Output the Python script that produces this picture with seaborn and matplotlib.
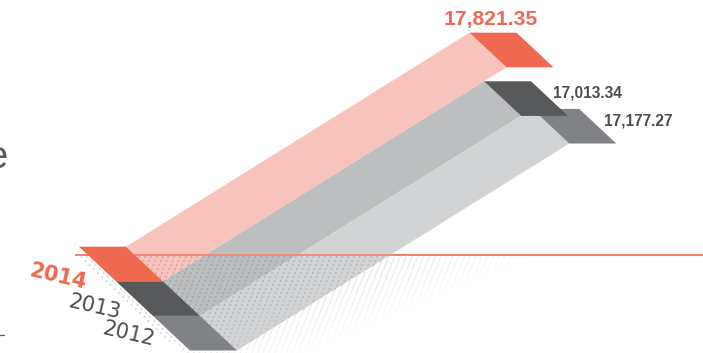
import numpy as np
import pandas as pd
import matplotlib
matplotlib.use("Agg")
import matplotlib.pyplot as plt
from matplotlib.collections import LineCollection
from matplotlib.transforms import Affine2D
import seaborn as sns

# ---- data -------------------------------------------------------------
years = ["2014", "2013", "2012"]
values = [17821.35, 17013.34, 17177.27]
value_labels = ["17,821.35", "17,013.34", "17,177.27"]
# the source's bars are not strictly proportional to their labels
drawn_scale = [1.0, 0.979, 1.0035]

ribbon_colors = ["#f8c3bb", "#bcbec0", "#d1d3d4"]
cap_colors = ["#ee6950", "#58595b", "#808285"]
label_colors = ["#ee6950", "#4d4d4f", "#4d4d4f"]

# ---- oblique projection: (value, row, side offset) -> pixel -------------
ORIGIN = np.array([144.5, 264.0])
PER_VALUE = np.array([343.5, -214.0]) / 17821.35
PER_ROW = np.array([37.0, 34.6])
SIDE = 47.0


def project(value, row, side=0.0):
    return ORIGIN + value * PER_VALUE + row * PER_ROW + np.array([side, 0.0])


def box_face(value, row, s0, s1):
    return np.array([project(value, row - .5, s0), project(value, row - .5, s1),
                     project(value, row + .5, s1), project(value, row + .5, s0)])


sns.set_theme(style="white")
plt.rcParams["font.family"] = ["Liberation Sans", "DejaVu Sans"]
fig = plt.figure(figsize=(7.03, 3.53), dpi=100)
ax = fig.add_axes([0, 0, 1, 1])

drawn = np.array(values) * np.array(drawn_scale)
df = pd.DataFrame({"year": years, "row": [0, 1, 2], "drawn": drawn})
sns.barplot(data=df, x="drawn", y="row", hue="year", hue_order=years,
            palette=ribbon_colors, orient="y", native_scale=True, dodge=False,
            width=1.0, linewidth=0, legend=False, saturation=1, ax=ax)
skew = Affine2D.from_values(PER_VALUE[0], PER_VALUE[1], PER_ROW[0], PER_ROW[1],
                            ORIGIN[0], ORIGIN[1])
for bar in ax.patches:
    bar.set_transform(skew + ax.transData)
    bar.set_zorder(2)

ax.set_xlim(0, 703)
ax.set_ylim(353, 0)
ax.set_axis_off()

# floor shadow: fine slanted strokes that fade out to the right
segs, colors = [], []
lean = 0.4
rows_left = project(0, -.5, -SIDE - 9), project(0, 2.5, -SIDE - 9)
edge_a, edge_b = project(0, 2.5), project(drawn[2], 2.5)
for x0 in np.arange(70, 600, 5.8):
    for y in np.arange(256, 353, 2.0):
        x = x0 - lean * (y - 256)
        t = (y - rows_left[0][1]) / (rows_left[1][1] - rows_left[0][1])
        if x < rows_left[0][0] + t * (rows_left[1][0] - rows_left[0][0]):
            continue
        u = (y - edge_a[1]) / (edge_b[1] - edge_a[1])
        inside = x < edge_a[0] + u * (edge_b[0] - edge_a[0])
        if inside and int((y - 256) / 2) % 2:
            continue
        xend = 545 - 2.4 * (y - 255)
        a = np.clip((xend - x) / 190, 0, 1)
        if a <= 0:
            continue
        segs.append([(x, y), (x - lean * 2, y + 2)])
        level = 0.36 if inside else 0.24
        colors.append((0.45, 0.46, 0.47, level * a))
ax.add_collection(LineCollection(segs, colors=colors, linewidths=0.9,
                                 capstyle="butt", zorder=3))

# red reference line
ax.plot([75, 703], [254.5, 254.5], color="#ee6a53", lw=1.2, zorder=4,
        solid_capstyle="butt")
ax.plot([126, 393], [254.5, 254.5], color="#f0917f", lw=1.2, zorder=4.1,
        solid_capstyle="butt")

# fronts and caps, back to front
for i in [2, 1, 0]:
    ax.fill(*box_face(drawn[i], i, 0, SIDE).T, color=cap_colors[i], lw=0, zorder=6 - i * .1)
    ax.fill(*box_face(0, i, -SIDE, 0).T, color=cap_colors[i], lw=0, zorder=6 - i * .1)

# value labels
ax.text(491, 19, value_labels[0], color=label_colors[0], fontsize=15.2,
        fontweight="bold", ha="center", va="center", zorder=8)
ax.text(587, 93, value_labels[1], color=label_colors[1], fontsize=11.2,
        fontweight="bold", ha="center", va="center", zorder=8)
ax.text(638, 121, value_labels[2], color=label_colors[2], fontsize=11.2,
        fontweight="bold", ha="center", va="center", zorder=8)

# slanted year labels
year_pos = [(58, 277), (95, 307), (129, 334)]
for i, (x, y) in enumerate(year_pos):
    ax.text(x, y, years[i], color=label_colors[i], fontsize=15,
            family=["DejaVu Sans"], fontweight="bold" if i == 0 else "normal",
            rotation=-13, rotation_mode="anchor", ha="center", va="center", zorder=8)

# fragments of surrounding text cut off by the crop
ax.text(-14, 168, "e", color="#58595b", fontsize=27.5, family=["Liberation Sans"],
        ha="left", va="baseline", zorder=8)
ax.plot([0, 4], [334.5, 334.5], color="#58595b", lw=0.9, zorder=8)

fig.savefig("out.png", dpi=100, facecolor="white")
